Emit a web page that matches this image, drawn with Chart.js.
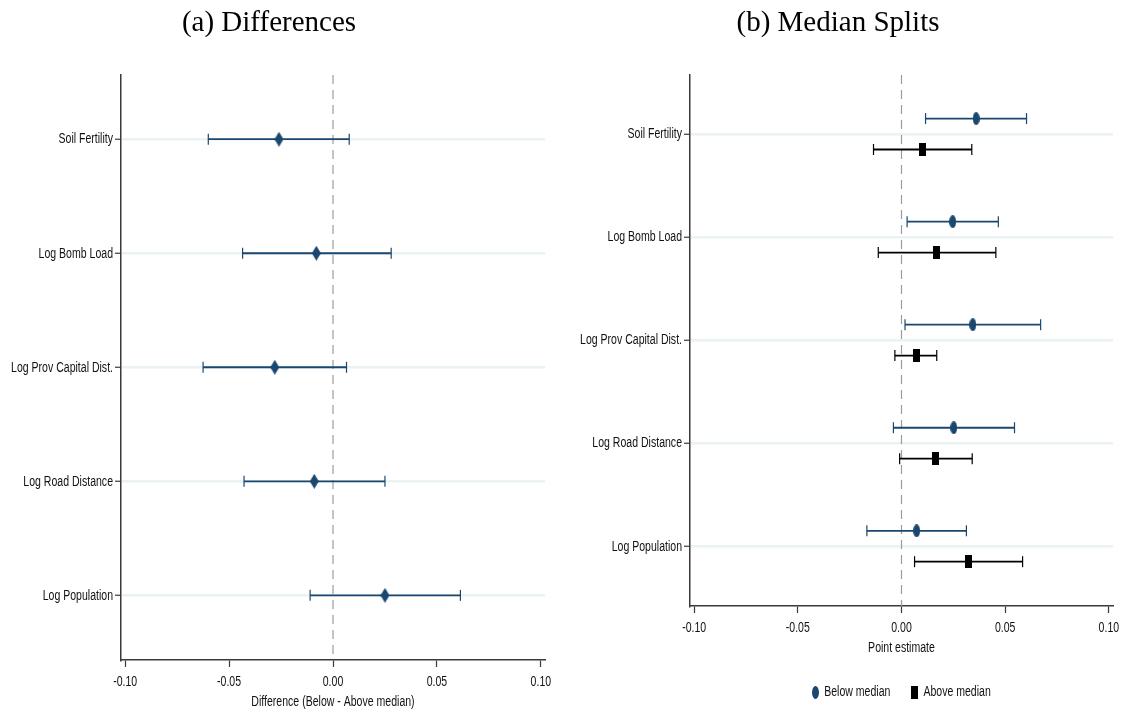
<!DOCTYPE html>
<html>
<head>
<meta charset="utf-8">
<script src="https://cdn.jsdelivr.net/npm/chart.js@4.4.1/dist/chart.umd.min.js"></script>
<style>
  html, body { margin: 0; padding: 0; background: #fff; }
  #wrap { position: relative; width: 1124px; height: 715px; }
  .panel { position: absolute; top: 0; width: 562px; height: 715px; }
  #left_panel { left: 0; }
  #right_panel { left: 562px; }
</style>
</head>
<body>
<div id="wrap">
  <div class="panel" id="left_panel"><canvas id="diff_chart"></canvas></div>
  <div class="panel" id="right_panel"><canvas id="split_chart"></canvas></div>
</div>
<script>
'use strict';

// rows, top to bottom
const categories = ['Soil Fertility', 'Log Bomb Load', 'Log Prov Capital Dist.', 'Log Road Distance', 'Log Population'];

// (a) differences, below - above median
const diffEst = [-0.026, -0.008, -0.028, -0.009, 0.025];
const diffLow = [-0.060, -0.0435, -0.0625, -0.0428, -0.011];
const diffHigh = [0.0078, 0.028, 0.0065, 0.025, 0.0613];

// (b) median splits
const belowEst = [0.036, 0.0247, 0.0344, 0.0252, 0.0073];
const belowLow = [0.0116, 0.0027, 0.0017, -0.0039, -0.0167];
const belowHigh = [0.0603, 0.0467, 0.0671, 0.0545, 0.0313];
const aboveEst = [0.0102, 0.017, 0.007, 0.0165, 0.0325];
const aboveLow = [-0.0135, -0.0112, -0.0032, -0.0009, 0.0063];
const aboveHigh = [0.0339, 0.0455, 0.017, 0.0341, 0.0584];

const xTicks = [-0.10, -0.05, 0.00, 0.05, 0.10];

const navy = '#1a476f';
const gridColor = '#eaf2f3';
const axisColor = '#3a3a3a';
const textColor = '#111';
const sans = "'Liberation Sans', Arial, sans-serif";
const serif = "'Liberation Serif', 'Times New Roman', serif";
const smallFont = '15.5px ' + sans;
// no narrow font here, so squeeze the small labels sideways
const squeeze = 0.68;

function makeMarker(shape, w, h, color) {
  const c = document.createElement('canvas');
  c.width = w;
  c.height = h;
  const ctx = c.getContext('2d');
  ctx.fillStyle = color;
  ctx.beginPath();
  if (shape === 'diamond') {
    ctx.moveTo(w / 2, 0);
    ctx.lineTo(w, h / 2);
    ctx.lineTo(w / 2, h);
    ctx.lineTo(0, h / 2);
    ctx.closePath();
  } else if (shape === 'ellipse') {
    ctx.ellipse(w / 2, h / 2, w / 2, h / 2, 0, 0, Math.PI * 2);
  } else {
    ctx.rect(0, 0, w, h);
  }
  ctx.fill();
  return c;
}

const diamondMark = makeMarker('diamond', 9, 15, navy);
const circleMark = makeMarker('ellipse', 7, 13, navy);
const squareMark = makeMarker('rect', 7, 13, '#000');

// one little line dataset per interval, caps are rotated 'line' points
function ciSets(low, high, shift, color) {
  return categories.map((name, i) => ({
    data: [{x: low[i], y: i + 1 + shift}, {x: high[i], y: i + 1 + shift}],
    showLine: true,
    borderColor: color,
    borderWidth: 1.8,
    pointStyle: 'line',
    pointRotation: 90,
    pointRadius: 5.5,
    pointBorderColor: color,
    pointBorderWidth: 1.2,
    order: 2
  }));
}

function zeroLine(yMin, yMax) {
  return {
    data: [{x: 0, y: yMin}, {x: 0, y: yMax}],
    showLine: true,
    borderColor: '#9c9c9c',
    borderWidth: 1.2,
    borderDash: [9, 6],
    pointRadius: 0,
    order: 3
  };
}

function squeezedText(ctx, text, x, y, align) {
  ctx.save();
  ctx.translate(x, y);
  ctx.scale(squeeze, 1);
  ctx.textAlign = align;
  ctx.textBaseline = 'middle';
  ctx.fillText(text, 0, 0);
  ctx.restore();
}

const panelTitle = {
  id: 'panelTitle',
  afterDraw(chart, args, opts) {
    const ctx = chart.ctx;
    ctx.save();
    ctx.font = '29px ' + serif;
    ctx.fillStyle = '#000';
    ctx.textAlign = 'center';
    ctx.textBaseline = 'middle';
    ctx.fillText(opts.text, opts.x, opts.y);
    ctx.restore();
  }
};

// tick labels and axis title, placed from the scales
const axisText = {
  id: 'axisText',
  afterDraw(chart, args, opts) {
    const ctx = chart.ctx;
    const xs = chart.scales.x;
    const ys = chart.scales.y;
    ctx.save();
    ctx.font = smallFont;
    ctx.fillStyle = textColor;
    ys.ticks.forEach(t => squeezedText(ctx, t.label, ys.right - 8, ys.getPixelForValue(t.value), 'right'));
    xs.ticks.forEach(t => squeezedText(ctx, t.label, xs.getPixelForValue(t.value), xs.top + 22, 'center'));
    squeezedText(ctx, opts.xTitle, (xs.left + xs.right) / 2, xs.top + 42, 'center');
    ctx.restore();
  }
};

const legendItems = [
  {label: 'Below median', marker: circleMark},
  {label: 'Above median', marker: squareMark}
];

const markerLegend = {
  id: 'markerLegend',
  afterDraw(chart) {
    const ctx = chart.ctx;
    const y = 692;
    ctx.save();
    ctx.font = smallFont;
    ctx.fillStyle = textColor;
    const gap = 5;
    const itemGap = 21;
    const widths = legendItems.map(it => it.marker.width + gap + ctx.measureText(it.label).width * squeeze);
    const total = widths.reduce((a, b) => a + b, 0) + itemGap * (legendItems.length - 1);
    let x = (chart.chartArea.left + chart.chartArea.right) / 2 - total / 2;
    legendItems.forEach((it, i) => {
      ctx.drawImage(it.marker, Math.round(x), Math.round(y - it.marker.height / 2));
      squeezedText(ctx, it.label, x + it.marker.width + gap, y, 'left');
      x += widths[i] + itemGap;
    });
    ctx.restore();
  }
};

function xScale(height) {
  return {
    type: 'linear',
    min: -0.102,
    max: 0.102,
    afterBuildTicks: s => { s.ticks = xTicks.map(v => ({value: v})); },
    afterFit: s => { s.height = height; },
    grid: {drawOnChartArea: false, drawTicks: true, tickLength: 7, tickColor: axisColor, tickWidth: 1.2},
    border: {display: true, color: axisColor, width: 1.5},
    ticks: {display: false, callback: v => v.toFixed(2), autoSkip: false}
  };
}

function yScale(yMin, yMax, width) {
  return {
    type: 'linear',
    reverse: true,
    min: yMin,
    max: yMax,
    afterBuildTicks: s => { s.ticks = categories.map((c, i) => ({value: i + 1})); },
    afterFit: s => { s.width = width; },
    grid: {color: gridColor, lineWidth: 2.5, drawTicks: true, tickLength: 6, tickColor: axisColor, tickWidth: 1.2},
    border: {display: true, color: axisColor, width: 1.5},
    ticks: {display: false, callback: (v, i) => categories[i], autoSkip: false}
  };
}

// (a) Differences
const diffMin = 0.437;
const diffMax = 5.567;
new Chart(document.getElementById('diff_chart'), {
  type: 'scatter',
  data: {
    datasets: [
      {
        data: diffEst.map((v, i) => ({x: v, y: i + 1})),
        pointStyle: diamondMark,
        pointRadius: 5,
        order: 0
      },
      ...ciSets(diffLow, diffHigh, 0, navy),
      zeroLine(diffMin, diffMax)
    ]
  },
  options: {
    responsive: true,
    maintainAspectRatio: false,
    animation: false,
    events: [],
    layout: {padding: {top: 75, right: 17, bottom: 0, left: 0}},
    plugins: {
      legend: {display: false},
      tooltip: {enabled: false},
      panelTitle: {text: '(a) Differences', x: 269, y: 23},
      axisText: {xTitle: 'Difference (Below - Above median)'}
    },
    scales: {
      x: xScale(55),
      y: yScale(diffMin, diffMax, 121)
    }
  },
  plugins: [panelTitle, axisText]
});

// (b) Median Splits
const splitMin = 0.427;
const splitMax = 5.58;
new Chart(document.getElementById('split_chart'), {
  type: 'scatter',
  data: {
    datasets: [
      {
        data: belowEst.map((v, i) => ({x: v, y: i + 1 - 0.15})),
        pointStyle: circleMark,
        pointRadius: 5,
        order: 0
      },
      {
        data: aboveEst.map((v, i) => ({x: v, y: i + 1 + 0.15})),
        pointStyle: squareMark,
        pointRadius: 5,
        order: 0
      },
      ...ciSets(belowLow, belowHigh, -0.15, navy),
      ...ciSets(aboveLow, aboveHigh, 0.15, '#000'),
      zeroLine(splitMin, splitMax)
    ]
  },
  options: {
    responsive: true,
    maintainAspectRatio: false,
    animation: false,
    events: [],
    layout: {padding: {top: 75, right: 11, bottom: 57, left: 0}},
    plugins: {
      legend: {display: false},
      tooltip: {enabled: false},
      panelTitle: {text: '(b) Median Splits', x: 276, y: 23},
      axisText: {xTitle: 'Point estimate'}
    },
    scales: {
      x: xScale(52),
      y: yScale(splitMin, splitMax, 128)
    }
  },
  plugins: [panelTitle, axisText, markerLegend]
});
</script>
</body>
</html>
